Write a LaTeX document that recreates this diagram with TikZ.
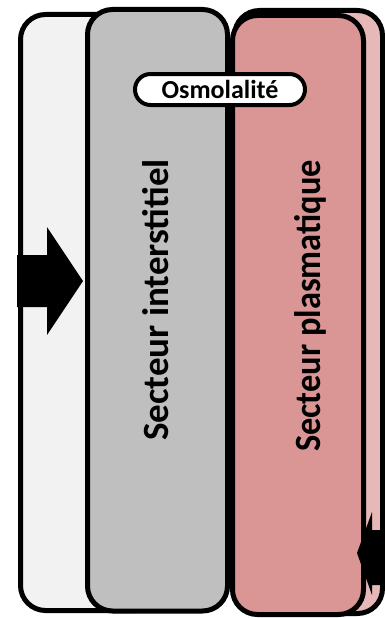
\documentclass[tikz,border=0pt]{standalone}
\usepackage{fontspec}
\setmainfont{Carlito}
\usetikzlibrary{shapes.misc}
\definecolor{lightbox}{RGB}{242,242,242}
\definecolor{greybox}{RGB}{191,191,191}
\definecolor{darkrose}{RGB}{217,150,148}
\definecolor{lightrose}{RGB}{230,185,184}

\begin{document}
\begin{tikzpicture}[x=1pt,y=-1pt,
  sector/.style={draw=black, line width=5pt, rounded corners=25pt},
  flow/.style={fill=black, draw=none},
  sectorlabel/.style={rotate=90, anchor=base, inner sep=0pt,
    font=\fontsize{37}{40}\selectfont\bfseries},
  taglabel/.style={draw=black, line width=4pt, fill=white, rounded rectangle,
    minimum width=170pt, minimum height=31pt, inner sep=0pt,
    font=\fontsize{26}{30}\selectfont\bfseries}]
\useasboundingbox (0,0) rectangle (385,618);
\begin{scope}
\clip (0,0) rectangle (385,618);

% outer compartment
\path[sector, fill=lightbox] (20.5,14.5) rectangle (160,610.5);
% inflow arrow
\fill[flow] (17,255) -- (47,255) -- (47,227) -- (83,281) -- (47,335)
  -- (47,307) -- (17,307) -- cycle;

% interstitial compartment
\path[sector, fill=greybox] (87.5,9.5) rectangle (227.5,611);

% plasma compartment (back and front layers)
\path[sector, fill=lightrose] (234.5,10.5) rectangle (382.5,613.5);
\path[sector, fill=darkrose] (232.5,15.5) rectangle (363.5,614.5);

% return arrow on the right edge
\fill[flow] (386,530) -- (372,530) -- (372,512) -- (357,553) -- (372,595)
  -- (372,585) -- (386,585) -- cycle;

% labels
\node[sectorlabel] (inter) at (168.5,300) {Secteur interstitiel};
\node[sectorlabel] (plasma) at (320,306)
  {\scalebox{0.93}[1]{Secteur plasmatique}};
\node[taglabel] (osmo) at (220,89.5) {Osmolalité};
\end{scope}
\end{tikzpicture}
\end{document}
